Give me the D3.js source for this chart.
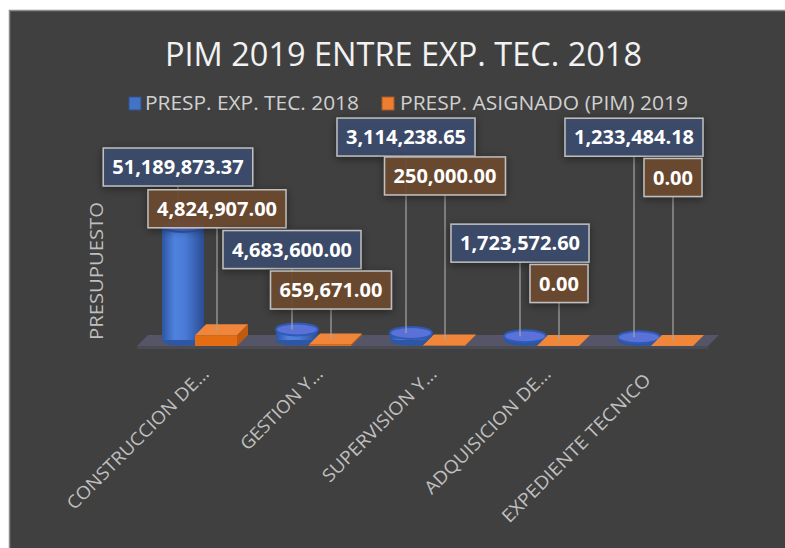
<!DOCTYPE html>
<html><head><meta charset="utf-8">
<script src="https://cdn.jsdelivr.net/npm/d3@7"></script>
<style>body{margin:0;background:#fff;} svg{display:block;font-family:"Open Sans",sans-serif;}</style>
</head><body><svg id="c" width="785" height="548"></svg>
<script>
// ---------------- data ----------------
const categories = ["CONSTRUCCION DE…", "GESTION Y…", "SUPERVISION Y…", "ADQUISICION DE…", "EXPEDIENTE TECNICO"];
const seriesNames = ["PRESP. EXP. TEC. 2018", "PRESP. ASIGNADO (PIM) 2019"];
const exp2018 = [51189873.37, 4683600.00, 3114238.65, 1723572.60, 1233484.18];
const pim2019 = [4824907.00, 659671.00, 250000.00, 0, 0];
const titleText = "PIM 2019 ENTRE EXP. TEC. 2018";
const axisTitle = "PRESUPUESTO";

// ---------------- layout (pixels, not data) ----------------
const blueRise = [40, 61, 177, 74, 181];    // label box bottom above bar top
const orangeRise = [102, 30, 145, 38, 144];
const catLabelShift = [[0,0],[0,0],[0,0],[0,0],[-14,6]];
const catLabelLen = [192, 108, 153, 170, 202];

const svg = d3.select("#c");
const fmt = d3.format(",.2f");

// defs
const defs = svg.append("defs");
const g1 = defs.append("linearGradient").attr("id","cyl").attr("x1","0").attr("x2","1").attr("y1","0").attr("y2","0");
[["0%","#2d56a3"],["30%","#4f82de"],["55%","#4a7bd6"],["100%","#2a4d94"]].forEach(s=>g1.append("stop").attr("offset",s[0]).attr("stop-color",s[1]));
const f = defs.append("filter").attr("id","sh").attr("x","-20%").attr("y","-40%").attr("width","140%").attr("height","180%");
f.append("feDropShadow").attr("dx",0).attr("dy",2).attr("stdDeviation",4).attr("flood-color","#000").attr("flood-opacity",0.45);

// background
svg.append("rect").attr("x",9.5).attr("y",10.5).attr("width",800).attr("height",560)
  .attr("fill","#404040").attr("stroke","#8c8c8c").attr("stroke-width",1.5);

// title
svg.append("text").attr("x",165).attr("y",66).attr("fill","#f2f2f2").attr("font-size",32)
  .attr("textLength",477).attr("lengthAdjust","spacingAndGlyphs").text(titleText);

// legend
const legColors = ["#4472c4","#ed7d31"];
const legBorder = ["#2f528f","#ae5a21"];
const legX = [129, 382], legTX = [145, 400], legTL = [214, 288];
seriesNames.forEach((s,i)=>{
  svg.append("rect").attr("x",legX[i]).attr("y",97).attr("width",12).attr("height",13)
    .attr("fill",legColors[i]).attr("stroke",legBorder[i]).attr("stroke-width",1);
  svg.append("text").attr("x",legTX[i]).attr("y",110).attr("fill","#d0d0d0").attr("font-size",20)
    .attr("textLength",legTL[i]).attr("lengthAdjust","spacingAndGlyphs").text(s);
});

// axis title
svg.append("text").attr("transform","translate(103,271) rotate(-90)").attr("text-anchor","middle")
  .attr("fill","#bfbfbf").attr("font-size",19).attr("textLength",138).attr("lengthAdjust","spacingAndGlyphs").text(axisTitle);

// scales
const x = d3.scaleBand().domain(categories).range([126, 696]).padding(0);
const h = d3.scaleLinear().domain([0, d3.max(exp2018)]).range([0, 114]);
const depth = [11, -11];
const baseBlue = 340, baseOrange = 346;
const rx = 21, ry = 6;

// floor
const fx0 = x.range()[0] + 11, fx1 = x.range()[1] + 12;
svg.append("path").attr("d", `M${fx0},${baseOrange} L${fx1},${baseOrange} L${fx1+depth[0]},${baseOrange+depth[1]} L${fx0+depth[0]},${baseOrange+depth[1]} Z`)
  .attr("fill","#57566a").attr("opacity",0.95);
svg.append("rect").attr("x",fx0).attr("y",baseOrange).attr("width",fx1-fx0).attr("height",3).attr("fill","#4a4a52");

const gBars = svg.append("g");
categories.forEach((c,i)=>{
  const cx = x(c) + x.bandwidth()/2;
  // blue cylinder
  const hb = h(exp2018[i]);
  const top = baseBlue - hb;
  gBars.append("ellipse").attr("cx",cx).attr("cy",baseBlue).attr("rx",rx).attr("ry",ry).attr("fill","#2d56a3");
  gBars.append("rect").attr("x",cx-rx).attr("y",top).attr("width",2*rx).attr("height",hb).attr("fill","url(#cyl)");
  gBars.append("ellipse").attr("cx",cx).attr("cy",top).attr("rx",rx).attr("ry",ry)
    .attr("fill","#5a72d8").attr("stroke","#2f5ab8").attr("stroke-width",2);
  // orange box
  const ho = h(pim2019[i]);
  const ox0 = cx + 12, ox1 = cx + 54, oyT = baseOrange - ho;
  const [dx, dy] = depth;
  gBars.append("path").attr("d",`M${ox1},${baseOrange} L${ox1+dx},${baseOrange+dy} L${ox1+dx},${oyT+dy} L${ox1},${oyT} Z`).attr("fill","#c05a10");
  gBars.append("path").attr("d",`M${ox0},${oyT} L${ox1},${oyT} L${ox1+dx},${oyT+dy} L${ox0+dx},${oyT+dy} Z`).attr("fill","#f0863a");
  gBars.append("rect").attr("x",ox0).attr("y",oyT).attr("width",ox1-ox0).attr("height",ho).attr("fill","#e46c12");
});

// category labels
categories.forEach((c,i)=>{
  const bx = x(c) + x.bandwidth()/2 + 27 + catLabelShift[i][0];
  const by = 375 + catLabelShift[i][1];
  svg.append("text").attr("transform",`translate(${bx},${by}) rotate(-45)`).attr("text-anchor","end")
    .attr("fill","#bfbfbf").attr("font-size",18).attr("textLength",catLabelLen[i])
    .attr("lengthAdjust","spacingAndGlyphs").text(c);
});

// data labels
const labels = [];
categories.forEach((c,i)=>{
  const cx = x(c) + x.bandwidth()/2;
  labels.push({v: exp2018[i], lx: cx - 5, ay: baseBlue - h(exp2018[i]), rise: blueRise[i], fill:"#3c4d6e"});
  labels.push({v: pim2019[i], lx: cx + 34, ay: baseOrange - h(pim2019[i]) - 5.5, rise: orangeRise[i], fill:"#6e4a32"});
});
const gl = svg.append("g"), gb = svg.append("g");
labels.forEach(d=>{
  const bottom = d.ay - d.rise;
  gl.append("line").attr("x1",d.lx).attr("x2",d.lx).attr("y1",bottom).attr("y2",d.ay)
    .attr("stroke","#a6a6a6").attr("stroke-width",1.2);
  const g = gb.append("g");
  const t = g.append("text").attr("x",d.lx).attr("y",bottom-12).attr("text-anchor","middle")
    .attr("fill","#fff").attr("font-weight","bold").attr("font-size",20).text(fmt(d.v));
  const tw = t.node().getComputedTextLength();
  g.insert("rect","text").attr("x",d.lx - tw/2 - 9).attr("y",bottom-38).attr("width",tw+18).attr("height",38)
    .attr("fill",d.fill).attr("fill-opacity",0.92).attr("stroke","#bfbfbf").attr("stroke-width",1.5).attr("filter","url(#sh)");
});
</script></body></html>
